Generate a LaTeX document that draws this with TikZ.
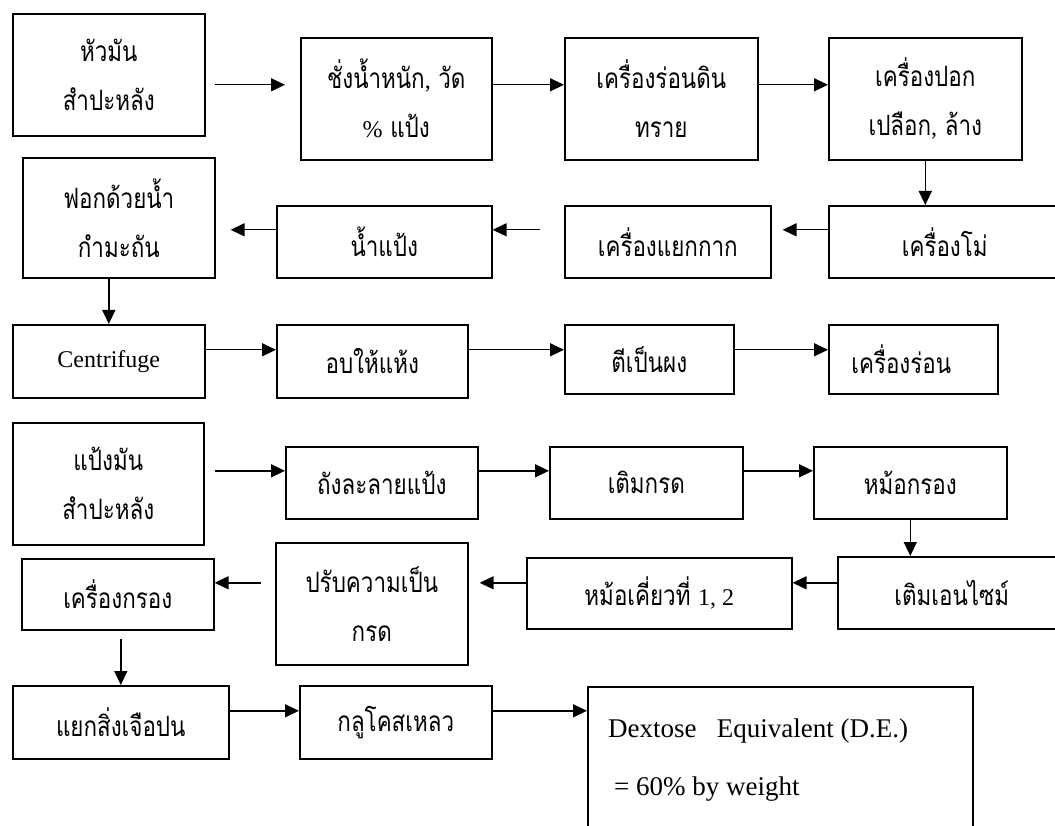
\documentclass[tikz,border=0pt]{standalone}
\usepackage{fontspec}
\setmainfont{Liberation Serif}
\newfontfamily\thai[Script=Thai, FakeStretch=0.8]{Loma}
\usetikzlibrary{arrows.meta}
\newcommand{\lat}[1]{{\rmfamily\fontsize{24}{49}\selectfont #1}}
\begin{document}
\begin{tikzpicture}[x=1pt,y=-1pt,
  box/.style={draw, line width=1.6pt, inner sep=0pt, align=center, anchor=north west,
    font=\thai\fontsize{28}{49}\selectfont},
  arr/.style={line width=1.4pt, -{Triangle[length=14pt,width=13pt]}},
  dextext/.style={anchor=base west, inner sep=0pt, font=\rmfamily\fontsize{27}{30}\selectfont}]
\useasboundingbox[fill=white] (0,0) rectangle (1055,826);
\clip (0,0) rectangle (1055,826);
% row 1
\node[box, minimum width=192pt, minimum height=122pt] (a) at (12,13) {หัวมัน\\สำปะหลัง};
\node[box, minimum width=191pt, minimum height=122pt] (b) at (300,37) {ชั่งน้ำหนัก\lat{,} วัด\\\lat{\%} แป้ง};
\node[box, minimum width=193pt, minimum height=122pt] (c) at (564,37) {เครื่องร่อนดิน\\ทราย};
\node[box, minimum width=193pt, minimum height=122pt] (d) at (828,37) {เครื่องปอก\\เปลือก\lat{,} ล้าง};
% row 2
\node[box, minimum width=232pt, minimum height=72pt] (e) at (828,205) {เครื่องโม่};
\node[box, minimum width=206pt, minimum height=72pt] (f) at (564,205) {เครื่องแยกกาก};
\node[box, minimum width=215pt, minimum height=72pt] (g) at (276,205) {น้ำแป้ง};
\node[box, minimum width=192pt, minimum height=120pt] (h) at (22,157) {ฟอกด้วยน้ำ\\กำมะถัน};
% row 3
\node[box, minimum width=192pt, minimum height=73pt, font=\rmfamily\fontsize{24}{30}\selectfont] (i) at (12,324) {Centrifuge};
\node[box, minimum width=191pt, minimum height=73pt] (j) at (276,324) {อบให้แห้ง};
\node[box, minimum width=169pt, minimum height=69pt] (k) at (564,324) {ตีเป็นผง};
\node[box, minimum width=169pt, minimum height=69pt] (l) at (828,324) {\hspace*{-24pt}เครื่องร่อน};
% row 4
\node[box, minimum width=191pt, minimum height=122pt] (m) at (12,422) {แป้งมัน\\สำปะหลัง};
\node[box, minimum width=192pt, minimum height=72pt] (n) at (285,446) {ถังละลายแป้ง};
\node[box, minimum width=193pt, minimum height=72pt] (o) at (549,446) {เติมกรด};
\node[box, minimum width=193pt, minimum height=72pt] (p) at (813,446) {หม้อกรอง};
% row 5
\node[box, minimum width=228pt, minimum height=72pt] (q) at (837,556) {เติมเอนไซม์};
\node[box, minimum width=265pt, minimum height=71pt] (r) at (526,557) {หม้อเคี่ยวที่ \lat{1, 2}};
\node[box, minimum width=192pt, minimum height=122pt] (s) at (275,542) {ปรับความเป็น\\กรด};
\node[box, minimum width=192pt, minimum height=71pt] (t) at (21,558) {เครื่องกรอง};
% row 6
\node[box, minimum width=216pt, minimum height=73pt] (u) at (12,685) {แยกสิ่งเจือปน};
\node[box, minimum width=192pt, minimum height=73pt] (v) at (299,685) {กลูโคสเหลว};
\node[box, minimum width=385pt, minimum height=200pt] (w) at (587,686) {};
\node[dextext] (w1) at (608,737) {Dextose\ \ \ Equivalent (D.E.)};
\node[dextext] (w2) at (614,795) {= 60\% by weight};
% connectors
\draw[arr, shorten <=9pt, shorten >=15pt] ([yshift=-10pt]a.east) -- ([yshift=14pt]b.west);
\draw[arr] ([yshift=14pt]b.east) -- ([yshift=14pt]c.west);
\draw[arr] ([yshift=14pt]c.east) -- ([yshift=14pt]d.west);
\draw[arr] (d.south) -- (d.south |- e.north);
\draw[arr, shorten >=11pt] ([yshift=12pt]e.west) -- ([yshift=12pt]f.east);
\draw[arr, shorten <=24pt] ([yshift=12pt]f.west) -- ([yshift=12pt]g.east);
\draw[arr, shorten >=15pt] ([yshift=12pt]g.west) -- ([yshift=-12pt]h.east);
\draw[arr] (h.south -| i.north) -- (i.north);
\draw[arr] ([yshift=11.5pt]i.east) -- ([yshift=11.5pt]j.west);
\draw[arr] ([yshift=11.5pt]j.east) -- ([yshift=9.5pt]k.west);
\draw[arr] ([yshift=9.5pt]k.east) -- ([yshift=9.5pt]l.west);
\draw[arr, shorten <=10pt] ([yshift=13pt]m.east) -- ([yshift=12pt]n.west);
\draw[arr] ([yshift=12pt]n.east) -- ([yshift=12pt]o.west);
\draw[arr] ([yshift=12pt]o.east) -- ([yshift=12pt]p.west);
\draw[arr] (p.south) -- (p.south |- q.north);
\draw[arr] ([yshift=10pt]q.west) -- ([yshift=10.5pt]r.east);
\draw[arr, shorten >=11pt] ([yshift=10.5pt]r.west) -- ([yshift=21pt]s.east);
\draw[arr, shorten <=14pt] ([yshift=21pt]s.west) -- ([yshift=11.5pt]t.east);
\draw[arr, shorten <=8pt] (t.south -| u.north) -- (u.north);
\draw[arr] ([yshift=11.5pt]u.east) -- ([yshift=11.5pt]v.west);
\draw[arr] ([yshift=11.5pt]v.east) -- ([yshift=76pt]w.west);
\end{tikzpicture}
\end{document}
